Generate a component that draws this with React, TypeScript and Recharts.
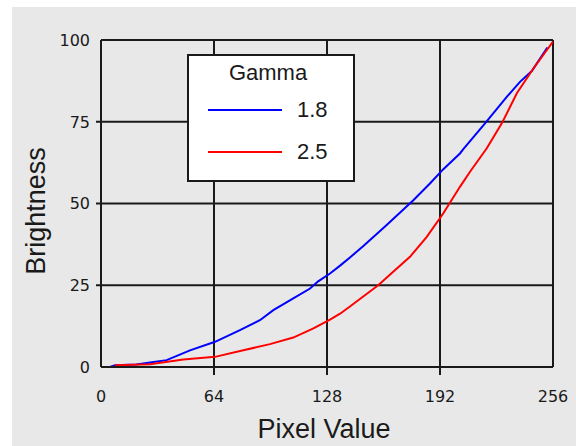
import React from 'react';
import { LineChart, Line, XAxis, YAxis, CartesianGrid, Legend, Customized } from 'recharts';

const xTicks = [0, 64, 128, 192, 256];
const yTicks = [0, 25, 50, 75, 100];

const blueX = [1, 5, 8, 20, 27.8, 37.2, 50.4, 64.6, 78.7, 90, 97.6, 108.9, 118.4, 123, 129.7, 135.4, 141, 148.6, 161.8, 176.9, 186.3, 193.9, 203.3, 205.2, 217.5, 229.8, 237.3, 244, 252.8];
const blueY = [0, 0, 0.5, 0.8, 1.4, 2.1, 5.1, 7.7, 11.3, 14.3, 17.4, 21, 24, 26.2, 28.6, 31.0, 33.5, 37.0, 43.4, 51, 56.1, 60.5, 65.3, 66.6, 74.5, 82.6, 87.2, 90.5, 97.7];

const redX = [7.9, 27.8, 46.6, 64.6, 80.6, 95.7, 108.9, 120.3, 129.7, 135.4, 141, 157, 165.5, 175, 184.5, 193.9, 203.3, 209, 218.5, 227, 235.5, 244.9, 256];
const redY = [0.55, 0.85, 2.3, 3.1, 5.1, 7.0, 9.0, 11.8, 14.5, 16.3, 18.5, 25, 29.1, 33.7, 39.8, 47, 55.1, 59.7, 66.9, 74.5, 83.7, 91.3, 99.5];

const blueData = blueX.map((x, i) => ({ x, v: blueY[i] }));
const redData = redX.map((x, i) => ({ x, v: redY[i] }));

const TEXT = '#1a1a1a';
const BG = '#e8e8e8';

const XTick = (props: any) => {
  const { x, y, payload } = props;
  const v = payload.value;
  return (
    <g>
      {v !== 0 && v !== 256 && <line x1={x} y1={y} x2={x} y2={y + 8} stroke="#1a1a1a" strokeWidth={2} />}
      <text x={x} y={y + 34.5} textAnchor="middle" fill={TEXT} fontSize={16} fontFamily="DejaVu Sans, sans-serif">{v}</text>
    </g>
  );
};

const YTick = (props: any) => {
  const { x, y, payload } = props;
  const v = payload.value;
  return (
    <g>
      {v !== 0 && v !== 100 && <line x1={x - 5} y1={y} x2={x} y2={y} stroke="#1a1a1a" strokeWidth={2} />}
      <text x={x - 11} y={y + 5.8} textAnchor="end" fill={TEXT} fontSize={16} fontFamily="DejaVu Sans, sans-serif">{v}</text>
    </g>
  );
};

const LegendBox = (props: any) => {
  const payload = props.payload || [];
  return (
    <svg width={168} height={128} style={{ display: 'block' }}>
      <rect x={1} y={1} width={166} height={126} fill="#ffffff" stroke="#1a1a1a" strokeWidth={2} />
      <text x={81} y={26} textAnchor="middle" fill={TEXT} fontSize={22} fontFamily="Liberation Sans, Arial, sans-serif">Gamma</text>
      {payload.map((p: any, i: number) => (
        <g key={i}>
          <line x1={21} x2={95} y1={56 + i * 42} y2={56 + i * 42} stroke={p.color} strokeWidth={2} />
          <text x={110} y={63 + i * 42} fill={TEXT} fontSize={22} fontFamily="Liberation Sans, Arial, sans-serif">{p.value}</text>
        </g>
      ))}
    </svg>
  );
};

const AxisTitles = () => (
  <g>
    <text x={312} y={431} textAnchor="middle" fill={TEXT} fontSize={27} fontFamily="Liberation Sans, Arial, sans-serif">Pixel Value</text>
    <text x={33} y={204} transform="rotate(-90 33 204)" textAnchor="middle" fill={TEXT} fontSize={27} fontFamily="Liberation Sans, Arial, sans-serif">Brightness</text>
  </g>
);

export default function App() {
  return (
    <div style={{ position: 'absolute', left: 12, top: 7, width: 564, height: 439, background: BG }}>
      <LineChart width={564} height={439} margin={{ top: 33, right: 23, bottom: 34, left: 49 }}>
        <CartesianGrid stroke="#1a1a1a" strokeWidth={2} />
        <XAxis
          type="number"
          dataKey="x"
          domain={[0, 256]}
          ticks={xTicks}
          allowDataOverflow
          height={45}
          tickSize={0}
          tickMargin={0}
          tickLine={false}
          axisLine={{ stroke: '#1a1a1a', strokeWidth: 2 }}
          tick={<XTick />}
          interval={0}
        />
        <YAxis
          type="number"
          dataKey="v"
          domain={[0, 100]}
          ticks={yTicks}
          allowDataOverflow
          width={40}
          tickSize={0}
          tickMargin={0}
          tickLine={false}
          axisLine={{ stroke: '#1a1a1a', strokeWidth: 2 }}
          tick={<YTick />}
          interval={0}
        />
        <Line data={blueData} dataKey="v" name="1.8" stroke="#0000ff" strokeWidth={2} dot={false} type="linear" isAnimationActive={false} />
        <Line data={redData} dataKey="v" name="2.5" stroke="#ff0000" strokeWidth={2} dot={false} type="linear" isAnimationActive={false} />
        <Legend
          layout="horizontal"
          verticalAlign="middle"
          align="center"
          content={<LegendBox />}
          wrapperStyle={{ left: 175, top: 47, width: 168, height: 128 }}
        />
        <Customized component={AxisTitles} />
      </LineChart>
    </div>
  );
}
